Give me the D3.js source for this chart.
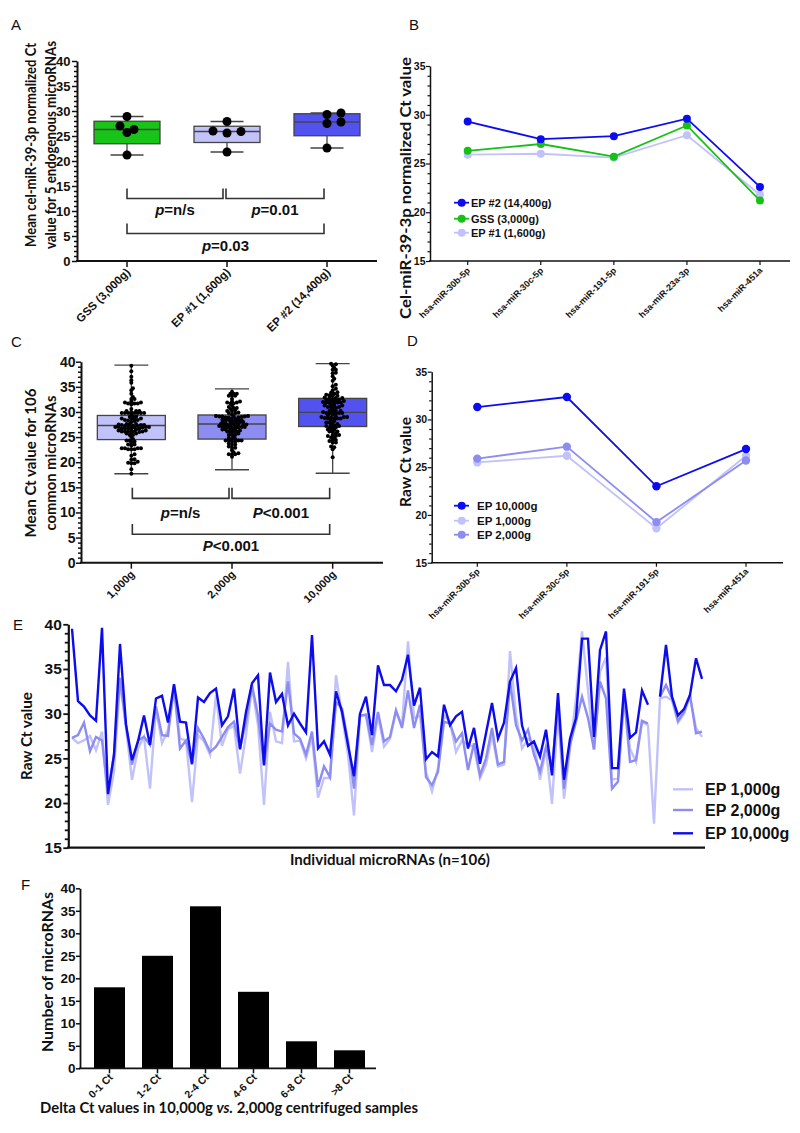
<!DOCTYPE html>
<html><head><meta charset="utf-8">
<script src="https://cdn.jsdelivr.net/npm/d3@7"></script>
<style>
body{margin:0;background:#fff}
svg{display:block}
text{font-family:"Liberation Sans",Arial,sans-serif;fill:#111}
.ttl{font-family:"Lato","Liberation Sans",sans-serif;font-weight:bold}
</style>
</head><body><svg id="c" width="800" height="1133"></svg>
<script>
// ---------- DATA ----------
const aGroups = ["GSS (3,000g)", "EP #1 (1,600g)", "EP #2 (14,400g)"];
const bMirs = ["hsa-miR-30b-5p", "hsa-miR-30c-5p", "hsa-miR-191-5p", "hsa-miR-23a-3p", "hsa-miR-451a"];
const bGSS = [26.3, 27.0, 25.7, 28.9, 21.2];
const bEP1 = [25.9, 26.0, 25.6, 27.9, 21.8];
const bEP2 = [29.3, 27.5, 27.8, 29.6, 22.6];
const bLegend = ["EP #2 (14,400g)", "GSS (3,000g)", "EP #1 (1,600g)"];

const cGroups = ["1,000g", "2,000g", "10,000g"];
const cMin = [17.7, 18.5, 17.8];
const cQ1  = [24.5, 24.6, 27.1];
const cMed = [27.3, 27.6, 29.9];
const cQ3  = [29.3, 29.4, 32.7];
const cMax = [39.3, 34.6, 39.6];

const dMirs = ["hsa-miR-30b-5p", "hsa-miR-30c-5p", "hsa-miR-191-5p", "hsa-miR-451a"];
const d10000 = [31.3, 32.35, 23.0, 26.9];
const d1000  = [25.5, 26.2, 18.6, 26.2];
const d2000  = [25.9, 27.15, 19.25, 25.7];
const dLegend = ["EP 10,000g", "EP 1,000g", "EP 2,000g"];

const e10000 = [39.5,31.4,30.8,29.8,29.2,39.6,21.0,25.4,37.8,28.8,24.8,26.9,29.8,26.5,31.7,32.0,29.0,33.3,29.1,29.0,
24.4,31.8,31.3,32.3,32.8,28.7,29.7,32.8,26.0,30.2,33.4,34.3,24.2,34.6,31.3,32.2,28.7,30.0,28.9,27.9,
38.8,26.1,26.9,25.4,32.5,30.2,26.5,23.0,30.0,31.9,27.6,35.4,33.2,33.2,32.5,33.8,36.6,30.9,32.9,24.9,
25.7,25.2,31.0,28.7,29.7,30.2,26.1,28.4,24.4,27.8,31.2,27.2,29.0,33.6,35.1,28.7,26.4,26.9,25.2,28.2,
23.1,32.3,22.6,27.2,29.5,38.4,38.4,27.4,37.1,39.2,23.9,23.9,32.8,27.3,27.9,32.6,31.0,null,31.9,37.7,
31.9,29.8,30.5,32.1,36.2,33.9];
const e2000 = [27.3,27.6,29.0,25.8,27.4,27.0,21.1,25.4,34.0,28.7,24.3,27.0,27.4,26.5,30.8,27.6,27.5,33.2,26.1,27.0,
24.3,28.4,27.2,25.7,26.3,27.4,28.5,29.1,26.1,29.1,33.2,29.8,24.3,28.9,28.2,28.0,33.6,27.8,27.2,25.4,
28.0,21.8,24.1,22.9,31.3,30.6,26.9,21.6,29.8,29.9,26.5,30.2,26.9,27.4,30.4,28.4,32.6,28.4,31.0,22.9,
22.0,23.5,29.1,28.9,26.9,27.8,23.7,26.7,23.1,25.0,28.4,24.3,24.6,33.6,28.7,27.0,28.2,25.4,23.5,26.3,
24.1,30.8,21.6,26.5,29.1,31.9,29.5,26.0,33.6,31.7,21.6,22.4,32.1,24.6,24.8,29.2,28.9,null,31.9,33.2,
31.7,29.2,30.2,32.1,27.8,28.0];
const e1000 = [27.3,26.7,27.0,27.5,25.9,28.0,19.8,23.5,33.6,28.4,22.6,26.1,27.4,21.6,30.6,26.7,28.2,32.6,27.2,27.0,
20.1,27.6,26.9,25.4,32.1,26.4,28.3,28.6,23.3,27.6,33.0,28.7,19.8,30.2,26.9,26.7,35.8,26.9,27.0,25.0,
27.4,20.6,22.8,22.8,34.3,29.8,25.4,18.6,29.8,29.8,25.7,29.8,26.3,27.2,30.2,28.7,38.1,29.5,29.8,23.5,
21.3,23.9,29.8,29.1,25.7,27.0,26.5,26.3,22.8,24.3,27.6,24.1,24.3,37.0,29.8,26.1,27.2,26.7,22.6,26.1,
19.9,30.2,20.5,26.1,31.7,39.2,32.6,26.0,34.7,36.3,22.6,22.8,31.7,26.1,24.6,29.1,28.7,17.7,31.7,31.9,
31.5,29.0,30.0,31.9,28.4,27.4];
const eLegend = ["EP 1,000g", "EP 2,000g", "EP 10,000g"];

const fBins = ["0-1 Ct", "1-2 Ct", "2-4 Ct", "4-6 Ct", "6-8 Ct", ">8 Ct"];
const fCounts = [18, 25, 36, 17, 6, 4];

// ---------- STYLE ----------
const col = {green:"#18c418", light:"#c2c2fa", mid:"#8c8cf2", dark:"#5252f0", line10:"#0b0bec", box:"#444"};

const svg = d3.select("#c");
svg.append("rect").attr("width",800).attr("height",1133).attr("fill","#fff");

function yAxis(sc, x, majors, minorStep, o) {
  if (minorStep) {
    const [d0,d1] = sc.domain();
    const minors = d3.range(d0, d1 + 1e-9, minorStep).filter(v => !majors.some(m => Math.abs(m - v) < 1e-6));
    const gm = svg.append("g").attr("transform", `translate(${x},0)`)
      .call(d3.axisLeft(sc).tickValues(minors).tickSize(o.minor).tickFormat("").tickSizeOuter(0));
    gm.select(".domain").remove();
    gm.selectAll("line").attr("stroke","#111").attr("stroke-width",o.tw);
  }
  const g = svg.append("g").attr("transform", `translate(${x},0)`)
    .call(d3.axisLeft(sc).tickValues(majors).tickSize(o.major).tickPadding(o.pad).tickSizeOuter(0));
  g.select(".domain").attr("stroke","#111").attr("stroke-width",o.sw);
  g.selectAll("line").attr("stroke","#111").attr("stroke-width",o.tw);
  g.selectAll("text").attr("font-size",o.fs).attr("font-weight","bold").attr("fill","#111")
    .attr("font-family","Liberation Sans, Arial, sans-serif");
  return g;
}
function hLine(x1,x2,y,sw){ svg.append("line").attr("x1",x1).attr("x2",x2).attr("y1",y).attr("y2",y).attr("stroke","#111").attr("stroke-width",sw); }
function xTicks(sc, cats, y, len, sw) {
  cats.forEach(c => svg.append("line").attr("x1",sc(c)).attr("x2",sc(c)).attr("y1",y).attr("y2",y+len).attr("stroke","#111").attr("stroke-width",sw));
}
function rotLabels(sc, cats, y, fs, dx) {
  cats.forEach(c => svg.append("text").attr("transform",`translate(${sc(c)+dx},${y}) rotate(-45)`)
    .attr("text-anchor","end").attr("font-size",fs).attr("font-weight","bold").text(c));
}
function yTitle(lines, x0, cy, fs, gap, lens) {
  lines.forEach((l,i) => svg.append("text").attr("class","ttl")
    .attr("transform",`translate(${x0 + i*gap},${cy}) rotate(-90)`)
    .attr("text-anchor","middle").attr("dominant-baseline","central").attr("font-size",fs)
    .attr("textLength",lens[i]).attr("lengthAdjust","spacingAndGlyphs").text(l));
}
function letter(t,x,y){ svg.append("text").attr("x",x).attr("y",y).attr("font-size",15).text(t); }
function bracket(x1,x2,yTop,yBot){
  svg.append("path").attr("d",`M${x1},${yTop}V${yBot}H${x2}V${yTop}`).attr("fill","none").attr("stroke","#333").attr("stroke-width",1.6);
}
function pText(x,y,p,rest,fs){
  const t = svg.append("text").attr("x",x).attr("y",y).attr("text-anchor","middle").attr("dominant-baseline","central")
    .attr("font-size",fs).attr("font-weight","bold");
  t.append("tspan").attr("font-style","italic").text(p);
  t.append("tspan").text(rest);
}
function quart(arr){
  const s = arr.slice().sort((a,b)=>a-b), n = s.length, h = Math.floor(n/2);
  return {min:s[0], max:s[n-1], med:d3.median(s), q1:d3.median(s.slice(0,h)), q3:d3.median(s.slice(n-h))};
}
function swarm(vals, ys, r, step, k0) {
  const placed = [], out = [];
  vals.map((v,i)=>({v,i})).sort((a,b)=>a.v-b.v).forEach(p => {
    const y = ys(p.v);
    let k = 0, off = 0;
    while (true) {
      off = (k % 2 ? 1 : -1) * Math.ceil(k/2) * step;
      if (!placed.some(q => (q.x-off)**2 + (q.y-y)**2 < (2*r*k0)**2)) break;
      k++;
    }
    placed.push({x:off,y}); out.push({v:p.v, off, y});
  });
  return out;
}
function boxDraw(cx, w, ys, st, fill){
  const cap = w/2;
  svg.append("line").attr("x1",cx).attr("x2",cx).attr("y1",ys(st.max)).attr("y2",ys(st.min)).attr("stroke",col.box).attr("stroke-width",1.3);
  [st.max, st.min].forEach(v => svg.append("line").attr("x1",cx-cap/2).attr("x2",cx+cap/2).attr("y1",ys(v)).attr("y2",ys(v)).attr("stroke",col.box).attr("stroke-width",1.3));
  svg.append("rect").attr("x",cx-w/2).attr("width",w).attr("y",ys(st.q3)).attr("height",ys(st.q1)-ys(st.q3))
    .attr("fill",fill).attr("stroke",col.box).attr("stroke-width",1.3);
  svg.append("line").attr("x1",cx-w/2).attr("x2",cx+w/2).attr("y1",ys(st.med)).attr("y2",ys(st.med)).attr("stroke",col.box).attr("stroke-width",1.3);
}

// ---------- PANEL A ----------
letter("A",11,30);
{
  const x = d3.scalePoint().domain(aGroups).range([77,377]).padding(0.5);
  const y = d3.scaleLinear().domain([0,40]).range([261,61]);
  const sets = [bGSS, bEP1, bEP2], fills = [col.green, col.light, col.dark];
  sets.forEach((s,i) => {
    boxDraw(x(aGroups[i]), 66, y, quart(s), fills[i]);
    swarm(s, y, 4.5, 7, 0.82).forEach(p => svg.append("circle").attr("cx",x(aGroups[i])+p.off).attr("cy",p.y).attr("r",4.5).attr("fill","#000"));
  });
  yAxis(y, 77, d3.range(0,41,5), 1, {major:5, minor:3, pad:1.5, sw:2, tw:1.5, fs:13});
  hLine(76, 377, 261, 2);
  xTicks(x, aGroups, 261, 6, 1.5);
  rotLabels(x, aGroups, 273, 11.5, 4);
  yTitle(["Mean cel-miR-39-3p normalized Ct","value for 5 endogenous microRNAs"], 30, 145, 14.5, 20, [204, 208]);
  const aBr = [[0,1,14.5,12.5],[1,2,14.5,12.5],[0,2,7.5,5.5]];
  const aTxt = [["p","=n/s",10.5],["p","=0.01",10.5],["p","=0.03",3.2]];
  aBr.forEach((b,i) => {
    const x1 = x(aGroups[b[0]]) + (i===1?-1:0), x2 = x(aGroups[b[1]]) - (i===0?4:3);
    bracket(x1, x2, y(b[2]), y(b[3]));
    pText((x1+x2)/2, y(aTxt[i][2]), aTxt[i][0], aTxt[i][1], 15);
  });
}

// ---------- PANEL B ----------
letter("B",409,30);
{
  const x = d3.scalePoint().domain(bMirs).range([467.7,760]);
  const y = d3.scaleLinear().domain([15,35]).range([261,66]);
  const series = [[bEP1,col.light],[bGSS,"#16c016"],[bEP2,"#0c0cf0"]];
  series.forEach(([s,c]) => {
    svg.append("path").attr("d", d3.line().x((d,i)=>x(bMirs[i])).y(d=>y(d))(s)).attr("fill","none").attr("stroke",c).attr("stroke-width",1.8);
    s.forEach((d,i)=>svg.append("circle").attr("cx",x(bMirs[i])).attr("cy",y(d)).attr("r",4).attr("fill",c));
  });
  yAxis(y, 430, d3.range(15,36,5), 1, {major:4, minor:2.5, pad:0.5, sw:1.5, tw:1.2, fs:10.5});
  hLine(429, 790, 261, 1.5);
  xTicks(x, bMirs, 261, 4, 1.2);
  rotLabels(x, bMirs, 271, 9, 3);
  yTitle(["Cel-miR-39-3p normalized Ct value"], 404, 188, 16, 0, [262]);
  const lc = ["#0c0cf0","#16c016",col.light];
  bLegend.forEach((l,i) => {
    const yy = [202.7,218.7,232.7][i];
    svg.append("line").attr("x1",454).attr("x2",469).attr("y1",yy).attr("y2",yy).attr("stroke",lc[i]).attr("stroke-width",1.8);
    svg.append("circle").attr("cx",461.7).attr("cy",yy).attr("r",4).attr("fill",lc[i]);
    svg.append("text").attr("x",471).attr("y",yy).attr("dominant-baseline","central").attr("font-size",11).attr("font-weight","bold").text(l);
  });
}

// ---------- PANEL C ----------
letter("C",11,347);
{
  const x = d3.scalePoint().domain(cGroups).range([81,383]).padding(0.5);
  const y = d3.scaleLinear().domain([0,40]).range([562.7,361.7]);
  const fills = [col.light, col.mid, col.dark];
  const dots = [e1000, e2000, e10000];
  cGroups.forEach((g,i) => {
    boxDraw(x(g), 68, y, {min:cMin[i], q1:cQ1[i], med:cMed[i], q3:cQ3[i], max:cMax[i]}, fills[i]);
    swarm(dots[i].filter(v=>v!=null), y, 2, 1.6, 0.55).forEach(p => svg.append("circle").attr("cx",x(g)+p.off).attr("cy",p.y).attr("r",2).attr("fill","#000"));
  });
  yAxis(y, 81, d3.range(0,41,5), 1, {major:5, minor:3, pad:0.5, sw:2, tw:1.5, fs:14});
  hLine(80, 383, 562.7, 2);
  xTicks(x, cGroups, 562.7, 6, 1.5);
  rotLabels(x, cGroups, 575, 11, 4);
  yTitle(["Mean Ct value for 106","common microRNAs"], 30, 463, 15, 20, [149, 135]);
  const cBr = [[0,1,14.9,12.8],[1,2,14.9,12.8],[0,2,7.7,5.65]];
  const cTxt = [["p","=n/s",10.1],["P","<0.001",10.1],["P","<0.001",3.5]];
  cBr.forEach((b,i) => {
    const x1 = x(cGroups[b[0]]) + (i===1?0:1), x2 = x(cGroups[b[1]]) - 3;
    bracket(x1, x2, y(b[2]), y(b[3]));
    pText((x1+x2)/2, y(cTxt[i][2]), cTxt[i][0], cTxt[i][1], 15);
  });
}

// ---------- PANEL D ----------
letter("D",407,346);
{
  const x = d3.scalePoint().domain(dMirs).range([477.3,746]);
  const y = d3.scaleLinear().domain([15,35]).range([562.7,371.7]);
  const series = [[d1000,col.light],[d2000,col.mid],[d10000,"#0c0cf0"]];
  series.forEach(([s,c]) => {
    svg.append("path").attr("d", d3.line().x((d,i)=>x(dMirs[i])).y(d=>y(d))(s)).attr("fill","none").attr("stroke",c).attr("stroke-width",1.8);
    s.forEach((d,i)=>svg.append("circle").attr("cx",x(dMirs[i])).attr("cy",y(d)).attr("r",4.2).attr("fill",c));
  });
  yAxis(y, 431.7, d3.range(15,36,5), 1, {major:4, minor:2.5, pad:0.5, sw:1.5, tw:1.2, fs:10.5});
  hLine(431, 783, 562.7, 1.5);
  xTicks(x, dMirs, 562.7, 4, 1.2);
  rotLabels(x, dMirs, 572, 9, 3);
  yTitle(["Raw Ct value"], 404, 462, 16, 0, [90]);
  const lc = ["#0c0cf0", col.light, col.mid];
  dLegend.forEach((l,i) => {
    const yy = [505.7,520.7,534.7][i];
    svg.append("line").attr("x1",454).attr("x2",469).attr("y1",yy).attr("y2",yy).attr("stroke",lc[i]).attr("stroke-width",1.8);
    svg.append("circle").attr("cx",461.7).attr("cy",yy).attr("r",4).attr("fill",lc[i]);
    svg.append("text").attr("x",477).attr("y",yy).attr("dominant-baseline","central").attr("font-size",11.5).attr("font-weight","bold").text(l);
  });
}

// ---------- PANEL E ----------
letter("E",13,630);
{
  const x = d3.scaleLinear().domain([0,105]).range([72,702]);
  const y = d3.scaleLinear().domain([15,40]).range([847.7,624.3]);
  const series = [[e1000,col.light],[e2000,col.mid],[e10000,"#0c0cec"]];
  series.forEach(([s,c]) => {
    svg.append("path").attr("d", d3.line().defined(d=>d!=null).x((d,i)=>x(i)).y(d=>y(d))(s))
      .attr("fill","none").attr("stroke",c).attr("stroke-width",2.4).attr("stroke-linejoin","miter");
  });
  yAxis(y, 68.3, d3.range(15,41,5), 1, {major:5, minor:3.5, pad:1.5, sw:2.2, tw:1.8, fs:15.5});
  hLine(67, 705, 847.7, 2.2);
  svg.append("text").attr("class","ttl").attr("x",390).attr("y",858).attr("text-anchor","middle").attr("dominant-baseline","central")
    .attr("font-size",16).attr("textLength",200).attr("lengthAdjust","spacingAndGlyphs").text("Individual microRNAs (n=106)");
  yTitle(["Raw Ct value"], 26, 736, 15, 0, [88]);
  const lc = [col.light, col.mid, "#0c0cec"];
  eLegend.forEach((l,i) => {
    const yy = [789.3,810,833.3][i];
    svg.append("line").attr("x1",673).attr("x2",693).attr("y1",yy).attr("y2",yy).attr("stroke",lc[i]).attr("stroke-width",2.4);
    svg.append("text").attr("x",705).attr("y",yy).attr("dominant-baseline","central").attr("font-size",16).attr("font-weight","bold").text(l);
  });
}

// ---------- PANEL F ----------
letter("F",21,890);
{
  const x = d3.scaleBand().domain(fBins).range([85.5,373.5]).paddingInner(0.354).paddingOuter(0.177);
  const y = d3.scaleLinear().domain([0,40]).range([1068.3,888.3]);
  fBins.forEach((b,i) => svg.append("rect").attr("x",x(b)).attr("width",x.bandwidth()).attr("y",y(fCounts[i])).attr("height",y(0)-y(fCounts[i])).attr("fill","#000"));
  yAxis(y, 80, d3.range(0,41,5), 0, {major:4, minor:0, pad:0.5, sw:1.8, tw:1.5, fs:13.5});
  hLine(79, 376, 1068.3, 1.8);
  const xc = d3.scalePoint().domain(fBins).range([x(fBins[0])+x.bandwidth()/2, x(fBins[5])+x.bandwidth()/2]);
  xTicks(xc, fBins, 1068.3, 5, 1.5);
  rotLabels(xc, fBins, 1078, 10.5, 4);
  yTitle(["Number of microRNAs"], 47, 972, 15, 0, [160]);
  const t = svg.append("text").attr("class","ttl").attr("x",229).attr("y",1107).attr("text-anchor","middle").attr("dominant-baseline","central")
    .attr("font-size",14.8);
  t.append("tspan").text("Delta Ct values in 10,000g ");
  t.append("tspan").attr("font-style","italic").text("vs.");
  t.append("tspan").text(" 2,000g centrifuged samples");
}
</script>
</body></html>
